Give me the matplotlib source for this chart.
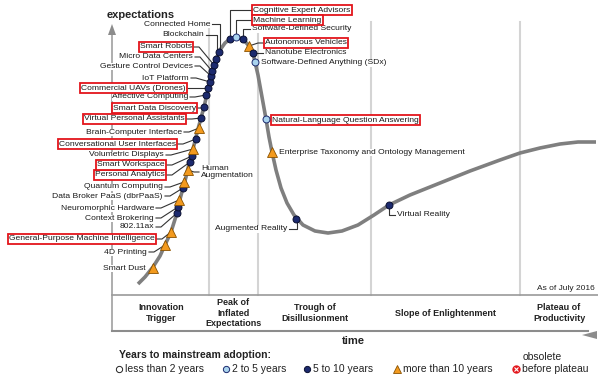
"""Hype cycle for emerging technologies, July 2016."""
import matplotlib
matplotlib.use('Agg')
import matplotlib.pyplot as plt

plt.rcParams['font.family'] = ['Liberation Sans', 'DejaVu Sans']

# Hype curve (time, expectations), pixel units
curve_x = [138, 145, 153, 160, 165, 171, 177, 179, 183, 186, 189, 192, 195, 198,
           201, 204, 207, 210, 213, 216, 220, 225, 230, 236, 243, 249, 253, 255,
           258, 262, 266, 269, 272, 276, 281, 287, 294, 303, 315, 328, 342, 358,
           374, 389, 410, 440, 470, 500, 520, 540, 560, 578, 596]
curve_y = [284, 277, 267, 256, 245, 232, 213, 203, 188, 177, 164, 153, 141, 129,
           118, 107, 94, 82, 69, 59, 50, 43, 39, 37, 39, 46, 53, 62,
           75, 97, 119, 137, 152, 170, 188, 203, 215, 225, 231, 233, 231, 225,
           215, 205, 195, 183, 171, 160, 153, 148, 144, 142, 142]

tech_names = [
    'Smart Dust', '4D Printing', 'General-Purpose Machine Intelligence',
    '802.11ax', 'Context Brokering', 'Neuromorphic Hardware',
    'Data Broker PaaS (dbrPaaS)', 'Quantum Computing', 'Human\nAugmentation',
    'Personal Analytics', 'Smart Workspace', 'Volumetric Displays',
    'Conversational User Interfaces', 'Brain-Computer Interface',
    'Virtual Personal Assistants', 'Smart Data Discovery', 'Affective Computing',
    'Commercial UAVs (Drones)', 'IoT Platform', 'Gesture Control Devices',
    'Micro Data Centers', 'Smart Robots', 'Blockchain', 'Connected Home',
    'Cognitive Expert Advisors', 'Machine Learning', 'Software-Defined Security',
    'Autonomous Vehicles', 'Nanotube Electronics',
    'Software-Defined Anything (SDx)', 'Natural-Language Question Answering',
    'Enterprise Taxonomy and Ontology Management', 'Augmented Reality',
    'Virtual Reality',
]
tech_x = [153, 165, 171, 177, 178, 179, 183, 184, 188, 190, 192, 193, 196, 199,
          201, 204, 206, 208, 210, 211, 212, 214, 216, 219, 230, 236, 243, 249,
          253, 255, 266, 272, 296, 389]
tech_y = [268, 245, 232, 213, 207, 200, 188, 182, 170, 162, 156, 149, 139, 128,
          118, 107, 95, 88, 82, 76, 71, 65, 59, 52, 39, 37, 39, 46,
          53, 62, 119, 152, 219, 205]
# years to mainstream adoption: '2-5', '5-10', '>10'
tech_years = ['>10', '>10', '>10', '5-10', '5-10', '>10', '5-10', '>10', '>10',
              '5-10', '5-10', '>10', '5-10', '>10', '5-10', '5-10', '5-10',
              '5-10', '5-10', '5-10', '5-10', '5-10', '5-10', '5-10', '5-10',
              '2-5', '5-10', '>10', '5-10', '2-5', '2-5', '>10', '5-10', '5-10']
highlighted = ['General-Purpose Machine Intelligence', 'Personal Analytics',
               'Smart Workspace', 'Conversational User Interfaces',
               'Virtual Personal Assistants', 'Smart Data Discovery',
               'Commercial UAVs (Drones)', 'Smart Robots',
               'Cognitive Expert Advisors', 'Machine Learning',
               'Autonomous Vehicles', 'Natural-Language Question Answering']

phase_names = ['Innovation\nTrigger', 'Peak of\nInflated\nExpectations',
               'Trough of\nDisillusionment', 'Slope of Enlightenment',
               'Plateau of\nProductivity']
phase_edges = [113, 209, 258, 371, 520, 598]

legend_keys = ['<2', '2-5', '5-10', '>10']
legend_texts = ['less than 2 years', '2 to 5 years', '5 to 10 years',
                'more than 10 years']

# label layout: anchor x, anchor y, side, leader kind
label_layout = {
    'Smart Dust': (146, 268, 'L', None),
    '4D Printing': (147, 252, 'L', 'diag'),
    'General-Purpose Machine Intelligence': (155, 239, 'L', 'diag'),
    '802.11ax': (154, 227, 'L', 'diag'),
    'Context Brokering': (154, 218, 'L', 'diag'),
    'Neuromorphic Hardware': (154, 208, 'L', 'diag'),
    'Data Broker PaaS (dbrPaaS)': (163, 196, 'L', 'diag'),
    'Quantum Computing': (163, 187, 'L', 'diag'),
    'Human\nAugmentation': (201, 172, 'R', 'diag'),
    'Personal Analytics': (165, 175, 'L', 'diag'),
    'Smart Workspace': (165, 165, 'L', 'diag'),
    'Volumetric Displays': (164, 155, 'L', 'diag'),
    'Conversational User Interfaces': (176, 144, 'L', 'diag'),
    'Brain-Computer Interface': (182, 132, 'L', 'diag'),
    'Virtual Personal Assistants': (185, 119, 'L', 'diag'),
    'Smart Data Discovery': (196, 108, 'L', 'diag'),
    'Affective Computing': (188, 97, 'L', 'diag'),
    'Commercial UAVs (Drones)': (186, 88, 'L', 'diag'),
    'IoT Platform': (189, 78, 'L', 'diag'),
    'Gesture Control Devices': (193, 66, 'L', 'diag'),
    'Micro Data Centers': (193, 57, 'L', 'diag'),
    'Smart Robots': (192, 47, 'L', 'diag'),
    'Blockchain': (204, 35, 'L', 'elbow'),
    'Connected Home': (210, 24, 'L', 'elbow'),
    'Cognitive Expert Advisors': (253, 10, 'R', 'elbow'),
    'Machine Learning': (253, 20, 'R', 'elbow'),
    'Software-Defined Security': (252, 29, 'R', 'elbow'),
    'Autonomous Vehicles': (265, 43, 'R', 'diag'),
    'Nanotube Electronics': (265, 53, 'R', 'diag'),
    'Software-Defined Anything (SDx)': (261, 63, 'R', None),
    'Natural-Language Question Answering': (272, 120, 'R', None),
    'Enterprise Taxonomy and Ontology Management': (279, 152, 'R', None),
    'Augmented Reality': (287, 229, 'L', 'elbow'),
    'Virtual Reality': (397, 215, 'R', 'elbow'),
}
legend_marker_x = [119, 226, 307, 397]

marker_style = {
    '<2': dict(marker='o', ms=5, mfc='white', mec='#222222', mew=0.7),
    '2-5': dict(marker='o', ms=5, mfc='#a9d3ee', mec='#1c2a6e', mew=0.7),
    '5-10': dict(marker='o', ms=5, mfc='#1c2a6e', mec='#0a0f30', mew=0.7),
    '>10': dict(marker='^', ms=6.5, mfc='#f39a1e', mec='#8a5200', mew=0.6),
}
LEADER = dict(color='#333333', lw=0.8, zorder=3)
GRID = '#d4d4d4'
AXIS = '#8c8c8c'
INK = '#222222'


def draw_leader(ax, lx, ly, side, kind, px, py):
    """Draws the thin connector between a label and its marker."""
    if kind is None:
        return
    if side == 'L':
        if kind == 'elbow':
            xs, ys = [lx + 2, px + 1, px + 1], [ly, ly, py]
        else:
            xs, ys = [lx + 2, lx + 7, px], [ly, ly, py]
    else:
        if kind == 'elbow':
            xs, ys = [px, px, lx - 2], [py, ly, ly]
        else:
            xs, ys = [px, lx - 7, lx - 2], [py, ly, ly]
    ax.plot(xs, ys, **LEADER)


fig = plt.figure(figsize=(5.98, 3.82), dpi=100)
ax = fig.add_axes([0, 0, 1, 1])
ax.set_xlim(0, 598)
ax.set_ylim(382, 0)
ax.axis('off')

# phase dividers
for edge in phase_edges[1:-1]:
    ax.plot([edge, edge], [22, 295], color=GRID, lw=1.5, zorder=1)

# expectations axis
ax.plot([112, 112], [34, 331], color='#a0a0a0', lw=1.2, zorder=1)
ax.fill([108, 116, 112], [35, 35, 24], color=AXIS, lw=0, zorder=1)
ax.text(107, 15, 'expectations', fontsize=8, fontweight='bold', ha='left',
        va='center', color=INK)

# phase band and time axis
ax.plot([112, 598], [295, 295], color='#9a9a9a', lw=1.2, zorder=1)
ax.plot([112, 588], [331, 331], color=AXIS, lw=1.5, zorder=1)
ax.fill([582, 597, 597], [335, 331, 339], color=AXIS, lw=0, zorder=1)
ax.text(353, 341, 'time', fontsize=8, fontweight='bold', ha='center',
        va='center', color=INK)
for i, name in enumerate(phase_names):
    center = (phase_edges[i] + phase_edges[i + 1]) / 2
    ax.text(center, 313, name, fontsize=6.5, fontweight='bold', ha='center',
            va='center', linespacing=1.15, color=INK)
ax.text(595, 288, 'As of July 2016', fontsize=6, ha='right', va='center',
        color=INK)

# hype curve
ax.plot(curve_x, curve_y, color='#7f7f7f', lw=2.6, solid_capstyle='butt',
        solid_joinstyle='round', zorder=2)

# technologies
for name, x, y, years in zip(tech_names, tech_x, tech_y, tech_years):
    ax.plot([x], [y], ls='none', zorder=5, **marker_style[years])
    lx, ly, side, kind = label_layout[name]
    draw_leader(ax, lx, ly, side, kind, x, y)
    if name in highlighted:
        box = dict(boxstyle='square,pad=0.15', fc='white', ec='#e3151b', lw=1.3)
        order = 4.5
    else:
        box = dict(boxstyle='square,pad=0.0', fc='white', ec='none')
        order = 4
    ax.text(lx, ly, name, fontsize=6.1, ha='right' if side == 'L' else 'left',
            va='center', color='#1a1a1a', bbox=box, zorder=order,
            linespacing=1.1)

# legend
ax.text(119, 355, 'Years to mainstream adoption:', fontsize=7.5,
        fontweight='bold', ha='left', va='center', color=INK)
for key, text, x in zip(legend_keys, legend_texts, legend_marker_x):
    style = dict(marker_style[key])
    style['ms'] = style['ms'] * 0.9
    ax.plot([x], [369], ls='none', **style)
    ax.text(x + 6, 369, text, fontsize=7.5, ha='left', va='center', color=INK)
ax.plot([516], [369], ls='none', marker='o', ms=5, mfc='#e3151b', mec='#e3151b')
ax.plot([516], [369], ls='none', marker='x', ms=2.5, mec='white', mew=0.8)
ax.text(523, 357, 'obsolete', fontsize=7.5, ha='left', va='center', color=INK)
ax.text(522, 369, 'before plateau', fontsize=7.5, ha='left', va='center',
        color=INK)

fig.savefig('out.png', dpi=100)
